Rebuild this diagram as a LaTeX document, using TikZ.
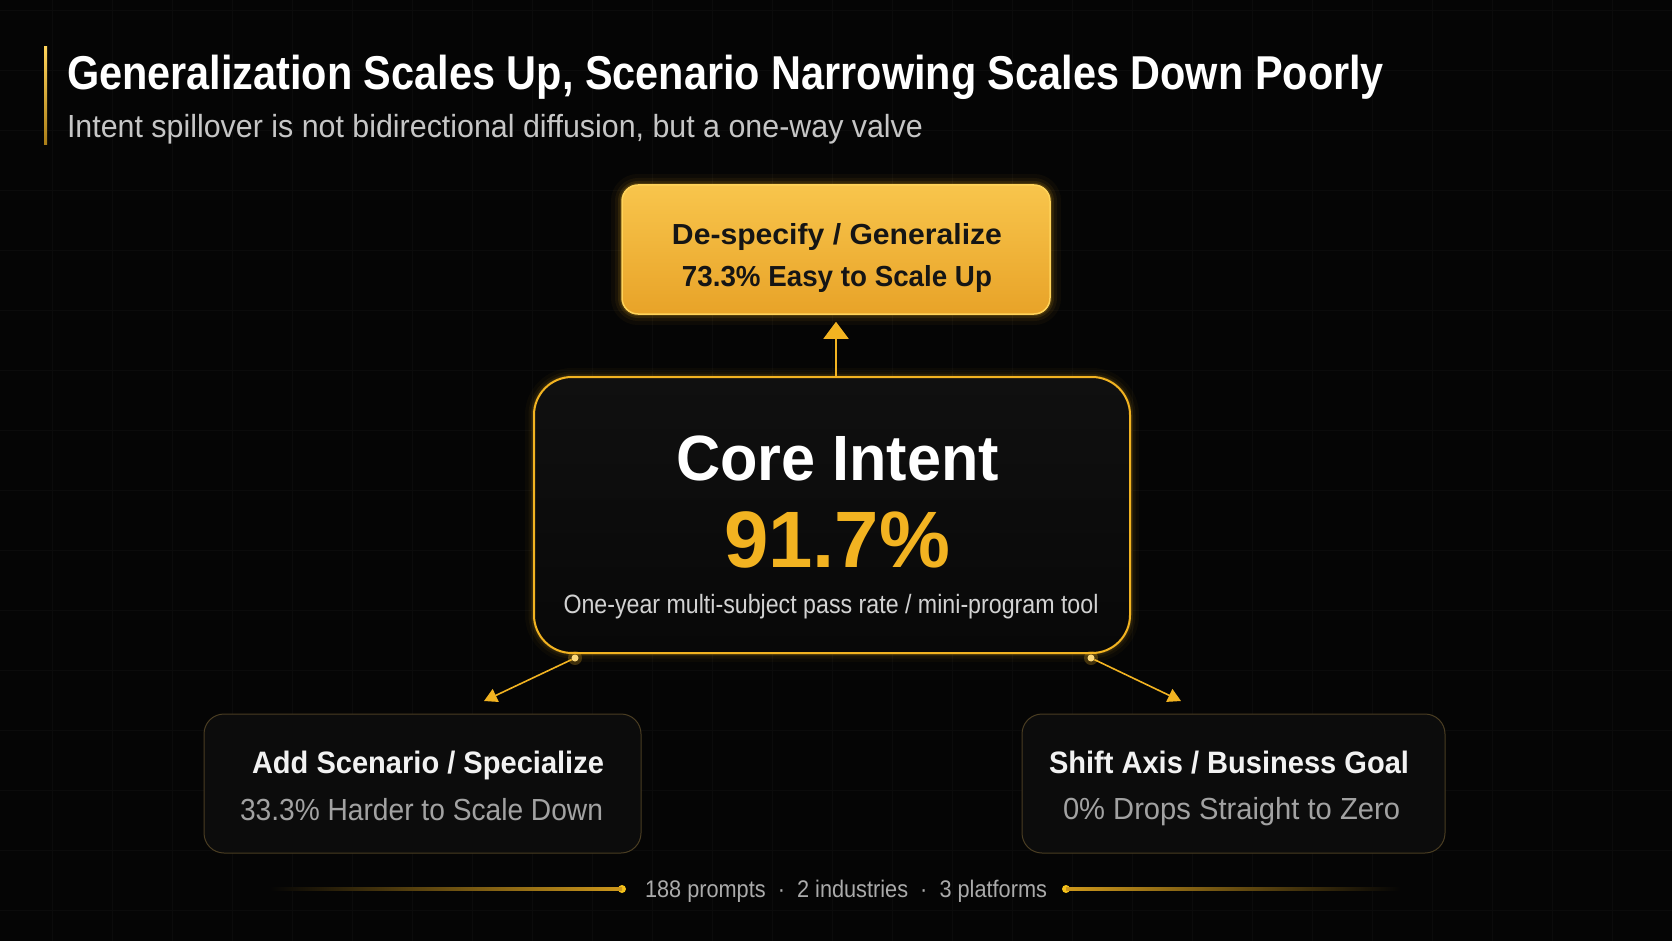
\documentclass[tikz,border=0pt]{standalone}
\usepackage{fontspec}
\setmainfont{Liberation Sans}
\usetikzlibrary{arrows.meta}
\definecolor{bg}{HTML}{050505}
\definecolor{gridc}{HTML}{0B0B0B}
\definecolor{gold}{HTML}{F2B321}
\definecolor{goldhi}{HTML}{FFD35A}
\definecolor{goldtop}{HTML}{F8C54C}
\definecolor{goldbot}{HTML}{E8A328}
\definecolor{golddim}{HTML}{4A3D22}
\definecolor{boxfill}{HTML}{0C0C0C}
\definecolor{coretop}{HTML}{101010}
\definecolor{corebot}{HTML}{080808}
\definecolor{subgray}{HTML}{C6C6C6}
\definecolor{coregray}{HTML}{D2D2D2}
\definecolor{midgray}{HTML}{A2A2A2}
\definecolor{footgray}{HTML}{ABABAB}
\definecolor{darktext}{HTML}{151515}
\newcommand{\fitw}[2]{\resizebox{#1}{\height}{#2}}
\begin{document}
\begin{tikzpicture}[x=1pt,y=-1pt,
  txt/.style={inner sep=0pt, outer sep=0pt, anchor=base},
  topbox/.style={rectangle, rounded corners=16pt, draw=goldhi, line width=1.5pt,
    top color=goldtop, bottom color=goldbot, inner sep=0pt},
  corebox/.style={rectangle, rounded corners=38pt, draw=gold, line width=2pt,
    top color=coretop, bottom color=corebot, inner sep=0pt},
  sidebox/.style={rectangle, rounded corners=20pt, draw=golddim, line width=1pt,
    fill=boxfill, inner sep=0pt},
  conn/.style={draw=gold, line width=1.6pt},
  glowdot/.style={circle, fill=goldhi!60!white, inner sep=0pt, minimum size=7pt},
  fdot/.style={circle, fill=gold!80!yellow, inner sep=0pt, minimum size=8pt},
  gridline/.style={draw=gridc, line width=0.8pt}
]
\useasboundingbox (0,0) rectangle (1672,941);
\fill[bg] (0,0) rectangle (1672,941);
% faint grid
\foreach \gx in {52,112,...,1672} \draw[gridline] (\gx,0) -- (\gx,941);
\foreach \gy in {10,70,...,941} \draw[gridline] (0,\gy) -- (1672,\gy);

% title accent bar
\shade[top color=goldhi, bottom color=gold!70!black] (44,47) rectangle (47,145);

% glows
\foreach \w/\o in {22/0.04,14/0.06,8/0.10,4/0.16}
  \draw[gold, line width=\w pt, opacity=\o, rounded corners=16pt] (622,185) rectangle (1050,314);
\foreach \w/\o in {18/0.03,11/0.05,6/0.09,3/0.14}
  \draw[gold, line width=\w pt, opacity=\o, rounded corners=38pt] (534,377) rectangle (1130,653);

% boxes
\node[topbox, minimum width=428pt, minimum height=129pt] (top) at (836,249.5) {};
\node[corebox, minimum width=596pt, minimum height=276pt] (core) at (832,515) {};
\node[sidebox, minimum width=437pt, minimum height=139pt] (left) at (422.5,783.5) {};
\node[sidebox, minimum width=423pt, minimum height=139pt] (right) at (1233.5,783.5) {};

% connectors
\draw[conn, shorten >=7pt, -{Triangle[width=25pt,length=17pt]}] (top.south |- core.north) -- (top.south);
\node[glowdot] (dotL) at (575,658) {};
\node[glowdot] (dotR) at (1091,658) {};
\fill[gold, opacity=0.25] (dotL) circle (7pt);
\fill[gold, opacity=0.25] (dotR) circle (7pt);
\coordinate (tipL) at (484,701);
\coordinate (tipR) at (1181,701);
\draw[conn, -{Triangle[width=14pt,length=13pt]}] (dotL) -- (tipL);
\draw[conn, -{Triangle[width=14pt,length=13pt]}] (dotR) -- (tipR);

% footer lines
\node[fdot] (fdotL) at (622,889) {};
\node[fdot] (fdotR) at (1066,889) {};
\coordinate (flineL) at (270,887.8);
\coordinate (flineR) at (1400,890.2);
\shade[left color=bg, right color=gold!85!black] (flineL) rectangle ([yshift=-1.2pt]fdotL.center);
\shade[left color=gold!85!black, right color=bg] ([yshift=1.2pt]fdotR.center) rectangle (flineR);

% title texts
\node[txt, anchor=base west, text=white] (title) at (67,90)
  {\fontsize{47.5}{52}\selectfont\bfseries\fitw{1317pt}{Generalization Scales Up, Scenario Narrowing Scales Down Poorly}};
\node[txt, anchor=base west, text=subgray] (subtitle) at (67,138)
  {\fontsize{32}{36}\selectfont\fitw{856pt}{Intent spillover is not bidirectional diffusion, but a one-way valve}};

% top box text
\node[txt, text=darktext] (topl1) at (837,244)
  {\fontsize{29}{32}\selectfont\bfseries\fitw{330pt}{De-specify / Generalize}};
\node[txt, text=darktext] (topl2) at (837,286)
  {\fontsize{29}{32}\selectfont\bfseries\fitw{310pt}{73.3\% Easy to Scale Up}};

% core text
\node[txt, text=white] (corel1) at (837.5,480)
  {\fontsize{64}{70}\selectfont\bfseries\fitw{323pt}{Core Intent}};
\node[txt, text=gold] (corel2) at (837,567)
  {\fontsize{80}{86}\selectfont\bfseries\fitw{226pt}{91.7\%}};
\node[txt, text=coregray] (corel3) at (831,613)
  {\fontsize{26.5}{30}\selectfont\fitw{535pt}{One-year multi-subject pass rate / mini-program tool}};

% side boxes text
\node[txt, text=white!95!black] (leftl1) at (428,773)
  {\fontsize{31}{34}\selectfont\bfseries\fitw{352pt}{Add Scenario / Specialize}};
\node[txt, text=midgray] (leftl2) at (421.5,820)
  {\fontsize{30.5}{34}\selectfont\fitw{363pt}{33.3\% Harder to Scale Down}};
\node[txt, text=white!95!black] (rightl1) at (1229,773)
  {\fontsize{31}{34}\selectfont\bfseries\fitw{360pt}{Shift Axis / Business Goal}};
\node[txt, text=midgray] (rightl2) at (1231.5,819)
  {\fontsize{30.5}{34}\selectfont\fitw{337pt}{0\% Drops Straight to Zero}};

% footer text
\node[txt, text=footgray] (foot) at (846,897)
  {\fontsize{24}{28}\selectfont\fitw{402pt}{188 prompts\ \ ·\ \ 2 industries\ \ ·\ \ 3 platforms}};
\end{tikzpicture}
\end{document}
